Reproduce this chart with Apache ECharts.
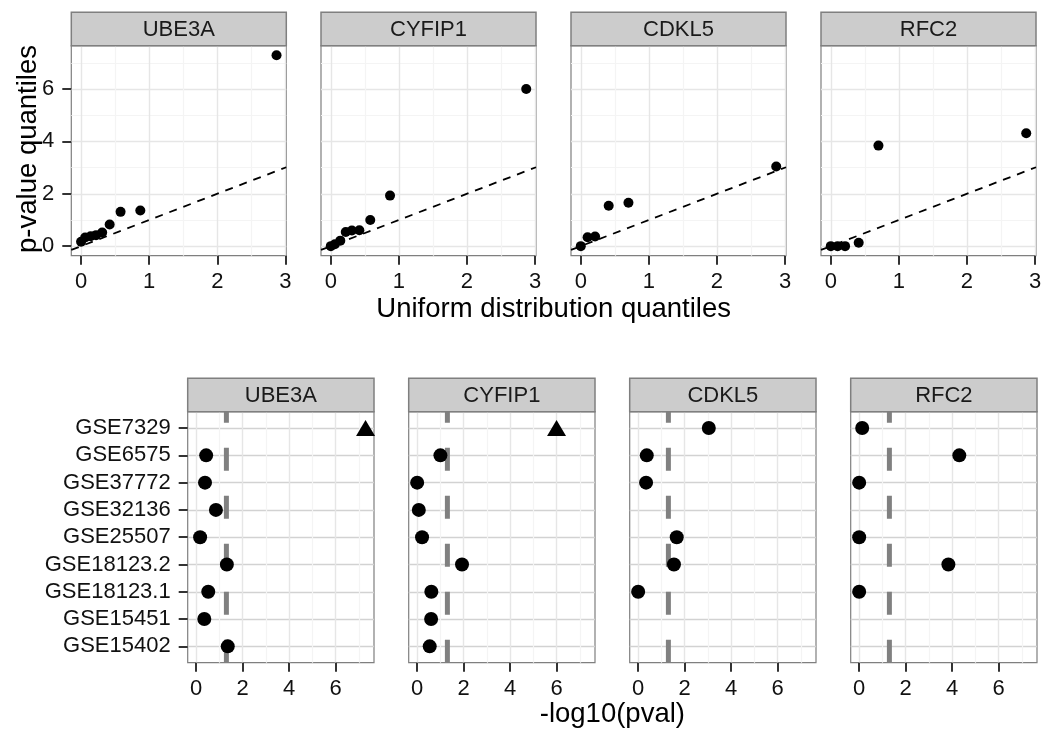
<!DOCTYPE html>
<html><head><meta charset="utf-8">
<script src="https://cdn.jsdelivr.net/npm/echarts@6/dist/echarts.min.js"></script>
<style>html,body{margin:0;padding:0;background:#fff}#c{width:1045px;height:733px}</style>
</head><body><div id="c"></div>
<script>
// ---------- DATA ----------
const genes = ["UBE3A", "CYFIP1", "CDKL5", "RFC2"];
// QQ plot: expected (uniform) quantiles
const qqX9 = [0, 0.06, 0.14, 0.22, 0.31, 0.42, 0.58, 0.87, 2.87];
const qqX6 = [0, 0.10, 0.21, 0.41, 0.70, 2.87];
// QQ plot: observed p-value quantiles (-log10)
const qqUBE3A  = [0.17, 0.33, 0.38, 0.42, 0.52, 0.83, 1.31, 1.36, 7.29];
const qqCYFIP1 = [0.00, 0.07, 0.21, 0.54, 0.60, 0.61, 1.00, 1.93, 6.00];
const qqCDKL5  = [0.00, 0.34, 0.37, 1.54, 1.66, 3.04];
const qqRFC2   = [0.00, 0.00, 0.00, 0.13, 3.84, 4.31];

// Dot plot: datasets (bottom to top)
const datasets = ["GSE15402", "GSE15451", "GSE18123.1", "GSE18123.2", "GSE25507",
                  "GSE32136", "GSE37772", "GSE6575", "GSE7329"];
const pvalUBE3A  = [1.36, 0.35, 0.52, 1.32, 0.17, 0.85, 0.38, 0.43, 7.29];
const pvalCYFIP1 = [0.54, 0.60, 0.61, 1.93, 0.21, 0.07, 0.00, 1.00, 6.00];
const pvalCDKL5  = [null, null, 0.00, 1.54, 1.66, null, 0.34, 0.37, 3.04];
const pvalRFC2   = [null, null, 0.00, 3.84, 0.00, null, 0.00, 4.31, 0.13];
// 1 = triangle marker, 0 = circle
const shapeUBE3A  = [0, 0, 0, 0, 0, 0, 0, 0, 1];
const shapeCYFIP1 = [0, 0, 0, 0, 0, 0, 0, 0, 1];
const shapeCDKL5  = [0, 0, 0, 0, 0, 0, 0, 0, 0];
const shapeRFC2   = [0, 0, 0, 0, 0, 0, 0, 0, 0];

const sigThreshold = 1.30103; // -log10(0.05)

const topXTicks = [0, 1, 2, 3];
const topXMinor = [0.5, 1.5, 2.5];
const topYTicks = [0, 2, 4, 6];
const topYMinor = [1, 3, 5, 7];
const botXTicks = [0, 2, 4, 6];
const botXMinor = [1, 3, 5, 7];

// ---------- LAYOUT ----------
const FONT = '"Liberation Sans", Arial, Helvetica, sans-serif';
const topXRange = [-0.1435, 3.0135];
const valRange = [-0.3645, 7.6545];
const catRange = [-0.6, 8.6];
const topLefts = [71.3, 321, 571, 821];
const topPanel = { top: 45.7, width: 215, height: 210 };
const botLefts = [187.7, 408.7, 629.7, 850.7];
const botPanel = { top: 411.7, width: 186.3, height: 251 };
const stripH = 33.4;

const qqX = [qqX9, qqX9, qqX6, qqX6];
const qqY = [qqUBE3A, qqCYFIP1, qqCDKL5, qqRFC2];
const pv = [pvalUBE3A, pvalCYFIP1, pvalCDKL5, pvalRFC2];
const shp = [shapeUBE3A, shapeCYFIP1, shapeCDKL5, shapeRFC2];

const grid = [], xAxis = [], yAxis = [], series = [], graphic = [];
const tickStyle = { color: '#333', width: 2 };
const labelStyle = { fontSize: 22, color: '#111', fontFamily: FONT };

function addAxis(arr, gi, range, ticks, minor, opts) {
  const main = {
    type: 'value', gridIndex: gi, min: range[0], max: range[1],
    axisLine: { show: false, onZero: false },
    axisTick: { show: opts.ticks, inside: false, customValues: ticks, length: 9, lineStyle: tickStyle },
    axisLabel: Object.assign({ show: opts.labels, customValues: ticks, margin: opts.margin }, labelStyle,
      opts.formatter ? { formatter: opts.formatter } : {}),
    splitLine: { show: true, lineStyle: { color: opts.majorColor, width: 1.4 } },
    position: opts.position
  };
  arr.push(main);
  const mainIdx = arr.length - 1;
  if (minor) {
    arr.push({
      type: 'value', gridIndex: gi, min: range[0], max: range[1],
      axisLine: { show: false, onZero: false },
      axisTick: { show: false, customValues: minor },
      axisLabel: { show: false, customValues: minor },
      splitLine: { show: true, lineStyle: { color: '#f4f4f4', width: 1.2 } },
      position: opts.position === 'bottom' ? 'top' : 'right'
    });
  }
  return mainIdx;
}

function addStrip(left, top, width, text) {
  graphic.push({
    type: 'rect', shape: { x: left, y: top, width: width, height: stripH },
    style: { fill: '#cccccc', stroke: '#7f7f7f', lineWidth: 1.5 }, z: 10
  });
  graphic.push({
    type: 'text', x: left + width / 2, y: top + stripH / 2 + 1,
    style: { text: text, font: '22px ' + FONT, fill: '#1a1a1a',
      align: 'center', verticalAlign: 'middle', textAlign: 'center', textVerticalAlign: 'middle' }, z: 11
  });
}

// top QQ panels
genes.forEach((g, i) => {
  grid.push({ left: topLefts[i], top: topPanel.top, width: topPanel.width, height: topPanel.height,
    show: true, borderColor: '#7f7f7f', borderWidth: 1.2, backgroundColor: '#fff' });
  const gi = grid.length - 1;
  const xi = addAxis(xAxis, gi, topXRange, topXTicks, topXMinor,
    { ticks: true, labels: true, margin: 15, majorColor: '#e6e6e6', position: 'bottom' });
  const yi = addAxis(yAxis, gi, valRange, topYTicks, topYMinor,
    { ticks: i === 0, labels: i === 0, margin: 17, majorColor: '#e6e6e6', position: 'left' });
  series.push({
    type: 'line', xAxisIndex: xi, yAxisIndex: yi, silent: true, showSymbol: false, symbol: 'none',
    data: [[topXRange[0], topXRange[0]], [topXRange[1], topXRange[1]]],
    lineStyle: { color: '#000', width: 1.8, type: [8, 7] }, z: 3, clip: true
  });
  series.push({
    type: 'scatter', xAxisIndex: xi, yAxisIndex: yi, symbolSize: 10,
    itemStyle: { color: '#000', opacity: 1 }, z: 5,
    data: qqX[i].map((x, k) => [x, qqY[i][k]])
  });
  addStrip(topLefts[i], topPanel.top - stripH, topPanel.width, g);
});

// bottom dot panels
const catIdx = datasets.map((d, k) => k);
genes.forEach((g, i) => {
  grid.push({ left: botLefts[i], top: botPanel.top, width: botPanel.width, height: botPanel.height,
    show: true, borderColor: '#7f7f7f', borderWidth: 1.2, backgroundColor: '#fff' });
  const gi = grid.length - 1;
  const xi = addAxis(xAxis, gi, valRange, botXTicks, botXMinor,
    { ticks: true, labels: true, margin: 15, majorColor: '#e6e6e6', position: 'bottom' });
  const yi = addAxis(yAxis, gi, catRange, catIdx, null,
    { ticks: i === 0, labels: i === 0, margin: 17, majorColor: '#d2d2d2', position: 'left',
      formatter: v => datasets[Math.round(v)] });
  series.push({
    type: 'line', xAxisIndex: xi, yAxisIndex: yi, silent: true, showSymbol: false, symbol: 'none',
    data: [[sigThreshold, catRange[0]], [sigThreshold, catRange[1]]],
    lineStyle: { color: '#808080', width: 5, type: [23, 25], cap: 'butt' }, z: 3
  });
  const pts = [];
  pv[i].forEach((v, k) => {
    if (v === null) return;
    const tri = shp[i][k] === 1;
    pts.push({ value: [v, k], symbol: tri ? 'triangle' : 'circle', symbolSize: tri ? [19, 16] : 14 });
  });
  series.push({
    type: 'scatter', xAxisIndex: xi, yAxisIndex: yi, itemStyle: { color: '#000', opacity: 1 }, z: 5,
    data: pts
  });
  addStrip(botLefts[i], botPanel.top - stripH, botPanel.width, g);
});

// axis titles
graphic.push({
  type: 'text', x: 28, y: 149, rotation: Math.PI / 2,
  style: { text: 'p-value quantiles', font: '27.5px ' + FONT, fill: '#000',
    align: 'center', verticalAlign: 'middle', textAlign: 'center', textVerticalAlign: 'middle' }
});
graphic.push({
  type: 'text', x: (topLefts[0] + topLefts[3] + topPanel.width) / 2, y: 309,
  style: { text: 'Uniform distribution quantiles', font: '27.5px ' + FONT, fill: '#000',
    align: 'center', verticalAlign: 'middle', textAlign: 'center', textVerticalAlign: 'middle' }
});
graphic.push({
  type: 'text', x: (botLefts[0] + botLefts[3] + botPanel.width) / 2, y: 714,
  style: { text: '-log10(pval)', font: '27.5px ' + FONT, fill: '#000',
    align: 'center', verticalAlign: 'middle', textAlign: 'center', textVerticalAlign: 'middle' }
});

const chart = echarts.init(document.getElementById('c'), null, { renderer: 'canvas' });
chart.setOption({
  animation: false,
  backgroundColor: '#fff',
  grid, xAxis, yAxis, series, graphic
});
</script>
</body></html>
